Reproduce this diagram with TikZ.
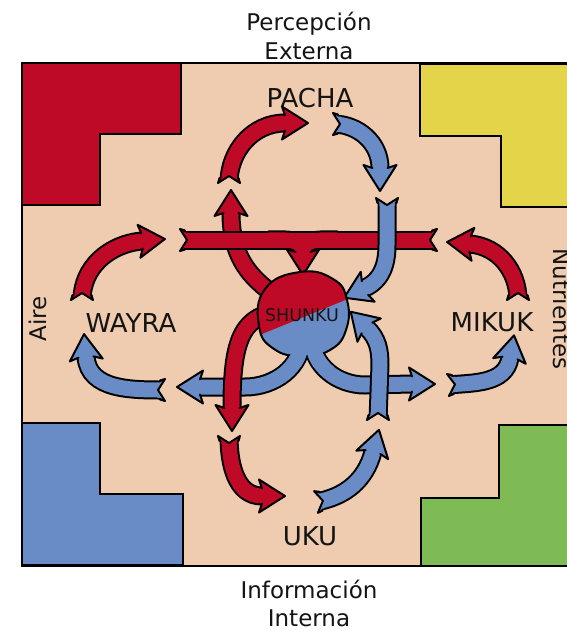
\documentclass[tikz,border=0pt]{standalone}
\usepackage{fontspec}
\setmainfont{DejaVu Sans}
\usetikzlibrary{calc}
\definecolor{redc}{RGB}{190,10,38}
\definecolor{bluec}{RGB}{106,140,198}
\definecolor{beigec}{RGB}{239,204,175}
\definecolor{yellowc}{RGB}{228,212,74}
\definecolor{greenc}{RGB}{126,187,85}
\definecolor{inkc}{RGB}{20,20,20}
\tikzset{
  outl/.style={draw=black, line width=2pt, line join=round, line cap=round},
  shaftout/.style={draw=black, line width=19pt},
  shaftin/.style={line width=15pt},
  block/.style={draw=black, line width=1.8pt, line join=miter},
  lbl/.style={text=inkc, font=\fontsize{23}{27}\selectfont, inner sep=0pt},
  bigname/.style={text=inkc, font=\fontsize{26}{30}\selectfont, inner sep=0pt},
}
% arrow head: #1 base point, #2 direction, #3 colour
\newcommand{\ahead}[3]{%
  \fill[#3] ($(#1)+(#2+90:7.5)$) -- ($(#1)+(#2:-3)+(#2+90:16.5)$) -- ($(#1)+(#2:23)$) -- ($(#1)+(#2:-3)+(#2-90:16.5)$) -- ($(#1)+(#2-90:7.5)$) -- ($(#1)+(#2:-1)+(#2-90:7.5)$) -- ($(#1)+(#2:-1)+(#2+90:7.5)$) -- cycle;
  \draw[outl] ($(#1)+(#2+90:7.5)$) -- ($(#1)+(#2:-3)+(#2+90:16.5)$) -- ($(#1)+(#2:23)$) -- ($(#1)+(#2:-3)+(#2-90:16.5)$) -- ($(#1)+(#2-90:7.5)$);
}
% notched tail: #1 tail point, #2 direction of travel, #3 colour
\newcommand{\atail}[3]{%
  \fill[beigec] ($(#1)+(#2:-1)+(#2+90:11)$) -- ($(#1)+(#2+90:11)$) -- ($(#1)+(#2:7)$) -- ($(#1)+(#2-90:11)$) -- ($(#1)+(#2:-1)+(#2-90:11)$) -- cycle;
  \fill[#3] ($(#1)+(#2:5)+(#2+90:7.5)$) -- ($(#1)+(#2+90:11)$) -- ($(#1)+(#2:7)$) -- ($(#1)+(#2-90:11)$) -- ($(#1)+(#2:5)+(#2-90:7.5)$) -- ($(#1)+(#2:8)+(#2-90:7.5)$) -- ($(#1)+(#2:8)+(#2+90:7.5)$) -- cycle;
  \draw[outl] ($(#1)+(#2:5)+(#2+90:9.5)$) -- ($(#1)+(#2+90:11)$) -- ($(#1)+(#2:7)$) -- ($(#1)+(#2-90:11)$) -- ($(#1)+(#2:5)+(#2-90:9.5)$);
}
% full arrow: #1 colour, #2 path middle, #3 tail, #4 tail dir, #5 head base, #6 head dir
\newcommand{\fatarrow}[6]{%
  \draw[shaftout] (#3) #2 (#5);
  \draw[shaftin, draw=#1] (#3) #2 (#5);
  \atail{#3}{#4}{#1}%
  \ahead{#5}{#6}{#1}%
}
\begin{document}
\begin{tikzpicture}[x=1pt,y=-1pt]
\useasboundingbox (0,0) rectangle (567,633);
\fill[white] (0,0) rectangle (567,633);
% frame and corner blocks
\draw[block, fill=beigec] (22,63) rectangle (595,566);
\draw[block, fill=redc] (22,63) -- (181,63) -- (181,134) -- (100,134) -- (100,205) -- (22,205) -- cycle;
\draw[block, fill=yellowc] (420,64) -- (595,64) -- (595,207) -- (501,207) -- (501,136) -- (420,136) -- cycle;
\draw[block, fill=bluec] (22,423) -- (100,423) -- (100,494) -- (183,494) -- (183,565) -- (22,565) -- cycle;
\draw[block, fill=greenc] (499,425) -- (595,425) -- (595,566) -- (421,566) -- (421,498) -- (499,498) -- cycle;
% outer labels
\node[lbl, anchor=base] (perc) at (309,30) {Percepción};
\node[lbl, anchor=base] (ext) at (309,59) {Externa};
\node[lbl, anchor=base] (info) at (309,598) {Información};
\node[lbl, anchor=base] (intr) at (309,626) {Interna};
\node[lbl, anchor=base, rotate=90] (aire) at (46.5,319) {Aire};
\node[lbl, anchor=base, rotate=-90] (nutr) at (553,309) {Nutrientes};
% names
\node[bigname, anchor=base] (pacha) at (310,107) {PACHA};
\node[bigname, anchor=base] (wayra) at (131,332) {WAYRA};
\node[bigname, anchor=base] (mikuk) at (492,331) {MIKUK};
\node[bigname, anchor=base] (uku) at (310,545) {UKU};
% outer circulation arrows
\fatarrow{redc}{to[out=90,in=180]}{229,183}{270}{285,123}{0}
\fatarrow{bluec}{to[out=0,in=90]}{333,124}{0}{380,168}{90}
\fatarrow{redc}{to[out=90,in=185]}{82,300}{270}{142,241}{355}
\fatarrow{bluec}{to[out=180,in=275]}{165,390}{180}{86,357}{265}
\fatarrow{redc}{to[out=90,in=355]}{518,300}{270}{470,244}{185}
\fatarrow{bluec}{to[out=5,in=260]}{448,385}{355}{510,358}{280}
\fatarrow{redc}{to[out=270,in=180]}{229,436}{90}{262,496}{0}
\fatarrow{bluec}{to[out=10,in=255]}{316,502}{350}{373,452}{285}
% red arrow rising from the heart
\draw[shaftout] (282,300) .. controls (255,282) and (231,262) .. (231,213);
\draw[shaftin, draw=redc] (282,300) .. controls (255,282) and (231,262) .. (231,213);
\ahead{231,213}{270}{redc}
% red horizontal band converging into the heart
\draw[shaftout] (180,240) -- (437,240);
\draw[shaftout] (268,240) to[out=0,in=90] (303,252);
\draw[shaftout] (338,240) to[out=180,in=90] (303,252);
\draw[shaftin, draw=redc] (180,240) -- (437,240);
\draw[shaftin, draw=redc] (268,240) to[out=0,in=90] (303,252);
\draw[shaftin, draw=redc] (338,240) to[out=180,in=90] (303,252);
\atail{180,240}{0}{redc}
\atail{437,240}{180}{redc}
\ahead{303,252}{90}{redc}
% blue arrow descending into the heart
\fatarrow{bluec}{-- (387,245) to[out=270,in=25]}{387,198}{90}{365,288}{155}
% blue band spreading from the heart
\draw[shaftout] (302,338) to[out=270,in=0] (245,387) -- (200,387);
\draw[shaftout] (312,338) to[out=270,in=180] (365,385) -- (412,384);
\draw[shaftin, draw=bluec] (302,338) to[out=270,in=0] (245,387) -- (200,387);
\draw[shaftin, draw=bluec] (312,338) to[out=270,in=180] (365,385) -- (412,384);
\ahead{200,387}{180}{bluec}
\ahead{412,384}{0}{bluec}
% blue arrow rising into the heart
\fatarrow{bluec}{-- (380,365) to[out=90,in=315]}{378,420}{270}{367,328}{225}
% red arrow descending from the heart
\draw[shaftout] (275,312) .. controls (240,318) and (232,345) .. (232,408);
\draw[shaftin, draw=redc] (275,312) .. controls (240,318) and (232,345) .. (232,408);
\ahead{232,408}{90}{redc}
% heart
\fill[bluec] plot[smooth cycle, tension=0.8] coordinates {(300,272) (333,279) (347,300) (346,330) (330,350) (302,356) (274,349) (259,326) (265,289)};
\begin{scope}
\clip plot[smooth cycle, tension=0.8] coordinates {(300,272) (333,279) (347,300) (346,330) (330,350) (302,356) (274,349) (259,326) (265,289)};
\fill[redc] (240,260) -- (360,260) -- (360,294) -- (240,343) -- cycle;
\end{scope}
\draw[black, line width=2pt] plot[smooth cycle, tension=0.8] coordinates {(300,272) (333,279) (347,300) (346,330) (330,350) (302,356) (274,349) (259,326) (265,289)};
\begin{scope}
\clip (280,343) rectangle (335,366);
\draw[shaftin, draw=bluec] (302,338) to[out=270,in=0] (245,387);
\draw[shaftin, draw=bluec] (312,338) to[out=270,in=180] (365,385);
\end{scope}
\node[text=inkc, font=\fontsize{17.5}{20}\selectfont, inner sep=0pt] (shunku) at (302,315) {SHUNKU};
\end{tikzpicture}
\end{document}
